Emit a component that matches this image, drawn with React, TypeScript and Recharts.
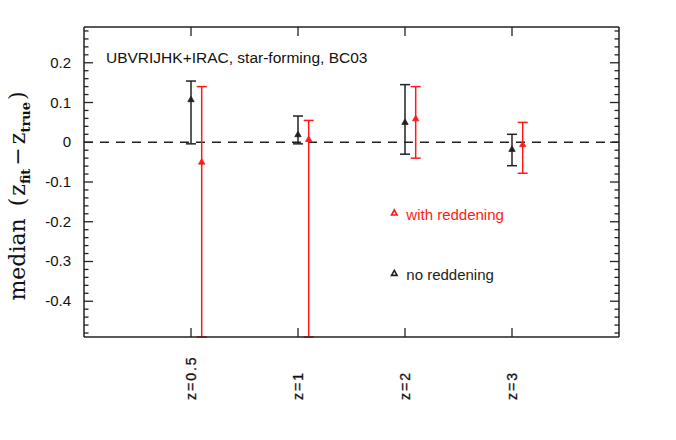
import React from 'react';
import {
  ScatterChart,
  Scatter,
  ErrorBar,
  XAxis,
  YAxis,
  ReferenceLine,
  ReferenceDot,
} from 'recharts';

// redshift bins and medians of (z_fit - z_true), with the error range ends
// (red lower ends run past the bottom of the frame, so they stop at its edge)
const zLabels = ['z=0.5', 'z=1', 'z=2', 'z=3'];
const noReddeningMedian = [0.107, 0.019, 0.05, -0.018];
const noReddeningLow = [-0.004, -0.004, -0.03, -0.059];
const noReddeningHigh = [0.154, 0.066, 0.145, 0.02];
const withReddeningMedian = [-0.05, 0.007, 0.059, -0.006];
const withReddeningLow = [-0.49, -0.49, -0.04, -0.078];
const withReddeningHigh = [0.14, 0.055, 0.14, 0.05];
const yMajorTicks = [-0.4, -0.3, -0.2, -0.1, 0, 0.1, 0.2];

const RED = '#ff1a1a';
const INK = '#222222';
const SANS = '"Liberation Sans", Arial, sans-serif';
const RED_SHIFT = 0.1; // red points sit a bit right of the black ones
const Y_DOMAIN: [number, number] = [-0.49, 0.29];

const zTicks = zLabels.map((_, i) => i + 1);

const buildSeries = (median: number[], low: number[], high: number[], shift: number) =>
  median.map((m, i) => ({
    x: i + 1 + shift,
    y: m,
    err: [m - low[i], high[i] - m],
  }));

const noReddening = buildSeries(noReddeningMedian, noReddeningLow, noReddeningHigh, 0);
const withReddening = buildSeries(withReddeningMedian, withReddeningLow, withReddeningHigh, RED_SHIFT);

// minor ticks every 0.02 between the labelled ones
const yMinorTicks: number[] = [];
for (let k = -24; k <= 14; k++) {
  if (k % 5 !== 0) yMinorTicks.push(Math.round(k * 2) / 100);
}
const yAllTicks = [...yMinorTicks, ...yMajorTicks].sort((a, b) => a - b);

const isMajor = (v: number) => yMajorTicks.some((t) => Math.abs(t - v) < 1e-6);

function Triangle(props: any) {
  const { cx, cy, fill } = props;
  if (cx == null || cy == null) return null;
  return (
    <path
      d={`M${cx},${cy - 3.5} L${cx + 3.2},${cy + 2} L${cx - 3.2},${cy + 2} Z`}
      fill={fill}
      stroke={fill}
      strokeWidth={0.8}
    />
  );
}

const Nothing = () => <g />;

function LeftTick(props: any) {
  const { x, y, payload } = props;
  const v = payload.value;
  const major = isMajor(v);
  return (
    <g>
      <line x1={x} x2={x + (major ? 9 : 4.5)} y1={y} y2={y} stroke={INK} strokeWidth={1.3} />
      {major && (
        <text x={x - 13} y={y + 5} textAnchor="end" fontSize={15} fontFamily={SANS} fill="#111">
          {Math.abs(v) < 1e-9 ? '0' : v.toFixed(1)}
        </text>
      )}
    </g>
  );
}

function RightTick(props: any) {
  const { x, y, payload } = props;
  const major = isMajor(payload.value);
  return <line x1={x} x2={x - (major ? 9 : 4.5)} y1={y} y2={y} stroke={INK} strokeWidth={1.3} />;
}

function TopTick(props: any) {
  const { x, y } = props;
  return <line x1={x} x2={x} y1={y} y2={y + 9} stroke={INK} strokeWidth={1.3} />;
}

function BottomTick(props: any) {
  const { x, y, payload } = props;
  const label = zLabels[payload.value - 1];
  const tx = x + 5;
  const ty = y + 63;
  return (
    <g>
      <line x1={x} x2={x} y1={y} y2={y - 9} stroke={INK} strokeWidth={1.3} />
      <text
        x={tx}
        y={ty}
        transform={`rotate(-90 ${tx} ${ty})`}
        textAnchor="start"
        fontSize={14}
        letterSpacing={2}
        fontFamily={SANS}
        fill="#111"
        stroke="#111"
        strokeWidth={0.3}
      >
        {label}
      </text>
    </g>
  );
}

function YLabel(props: any) {
  const vb = props.viewBox || { x: 0, y: 27, width: 84, height: 310 };
  const cx = vb.x + 25;
  const cy = vb.y + vb.height / 2 + 14;
  return (
    <text
      x={cx}
      y={cy}
      transform={`rotate(-90 ${cx} ${cy})`}
      textAnchor="middle"
      fontFamily='"DejaVu Serif", serif'
      fontSize={22}
      fill="#111"
    >
      <tspan>median</tspan>
      <tspan dx={12}>(</tspan>
      <tspan dx={2}>z</tspan>
      <tspan fontSize={13} fontWeight="bold" dy={5}>fit</tspan>
      <tspan dy={-5} dx={3}>−</tspan>
      <tspan dx={3}>z</tspan>
      <tspan fontSize={13} fontWeight="bold" dy={5}>true</tspan>
      <tspan dy={-5} dx={2}>)</tspan>
    </text>
  );
}

function LegendEntry({ cx, cy, color, text }: any) {
  if (cx == null || cy == null) return null;
  return (
    <g>
      <path
        d={`M${cx},${cy - 3} L${cx + 2.8},${cy + 2} L${cx - 2.8},${cy + 2} Z`}
        fill="none"
        stroke={color}
        strokeWidth={1.6}
      />
      <text x={cx + 12} y={cy + 7} fontSize={15} fontFamily={SANS} fill={color}>
        {text}
      </text>
    </g>
  );
}

const legendX = 2.9;
const legendWithY = -0.178;
const legendNoY = -0.33;

export default function App() {
  return (
    <div style={{ position: 'absolute', left: 0, top: 0, width: 676, height: 440, background: '#fff' }}>
      <div
        style={{
          position: 'absolute',
          left: 106,
          top: 50,
          fontFamily: SANS,
          fontSize: 15.5,
          lineHeight: '15.5px',
          color: '#111',
          whiteSpace: 'nowrap',
          zIndex: 1,
        }}
      >
        UBVRIJHK+IRAC, star-forming, BC03
      </div>
      <ScatterChart width={676} height={440} margin={{ top: 26, right: 56, bottom: 0, left: 0 }}>
        <XAxis
          dataKey="x"
          type="number"
          domain={[0, 5]}
          ticks={zTicks}
          interval={0}
          height={103}
          tickSize={0}
          tickMargin={0}
          tickLine={false}
          tick={BottomTick}
          axisLine={{ stroke: INK, strokeWidth: 1.5 }}
          allowDataOverflow
        />
        <XAxis
          xAxisId="top"
          dataKey="x"
          orientation="top"
          type="number"
          domain={[0, 5]}
          ticks={zTicks}
          interval={0}
          height={1}
          tickSize={0}
          tickMargin={0}
          tickLine={false}
          tick={TopTick}
          axisLine={{ stroke: INK, strokeWidth: 1.5 }}
          allowDataOverflow
        />
        <YAxis
          dataKey="y"
          type="number"
          domain={Y_DOMAIN}
          ticks={yAllTicks}
          interval={0}
          width={84}
          tickSize={0}
          tickMargin={0}
          tickLine={false}
          tick={LeftTick}
          axisLine={{ stroke: INK, strokeWidth: 1.5 }}
          allowDataOverflow
          label={{ content: (p: any) => <YLabel {...p} /> }}
        />
        <YAxis
          yAxisId="right"
          dataKey="y"
          orientation="right"
          type="number"
          domain={Y_DOMAIN}
          ticks={yAllTicks}
          interval={0}
          width={1}
          tickSize={0}
          tickMargin={0}
          tickLine={false}
          tick={RightTick}
          axisLine={{ stroke: INK, strokeWidth: 1.5 }}
          allowDataOverflow
        />
        <ReferenceLine y={0} stroke={INK} strokeWidth={1.3} strokeDasharray="9 7" />
        {/* invisible copy so the top and right frame axes get drawn */}
        <Scatter
          data={noReddening}
          xAxisId="top"
          yAxisId="right"
          shape={Nothing}
          legendType="none"
          isAnimationActive={false}
        />
        <Scatter data={noReddening} fill={INK} shape={Triangle} isAnimationActive={false}>
          <ErrorBar dataKey="err" direction="y" width={5} stroke={INK} strokeWidth={1.5} />
        </Scatter>
        <Scatter data={withReddening} fill={RED} shape={Triangle} isAnimationActive={false}>
          <ErrorBar dataKey="err" direction="y" width={5} stroke={RED} strokeWidth={1.5} />
        </Scatter>
        <ReferenceDot
          x={legendX}
          y={legendWithY}
          r={0}
          ifOverflow="visible"
          shape={(p: any) => <LegendEntry {...p} color={RED} text="with reddening" />}
        />
        <ReferenceDot
          x={legendX}
          y={legendNoY}
          r={0}
          ifOverflow="visible"
          shape={(p: any) => <LegendEntry {...p} color={INK} text="no reddening" />}
        />
      </ScatterChart>
    </div>
  );
}
